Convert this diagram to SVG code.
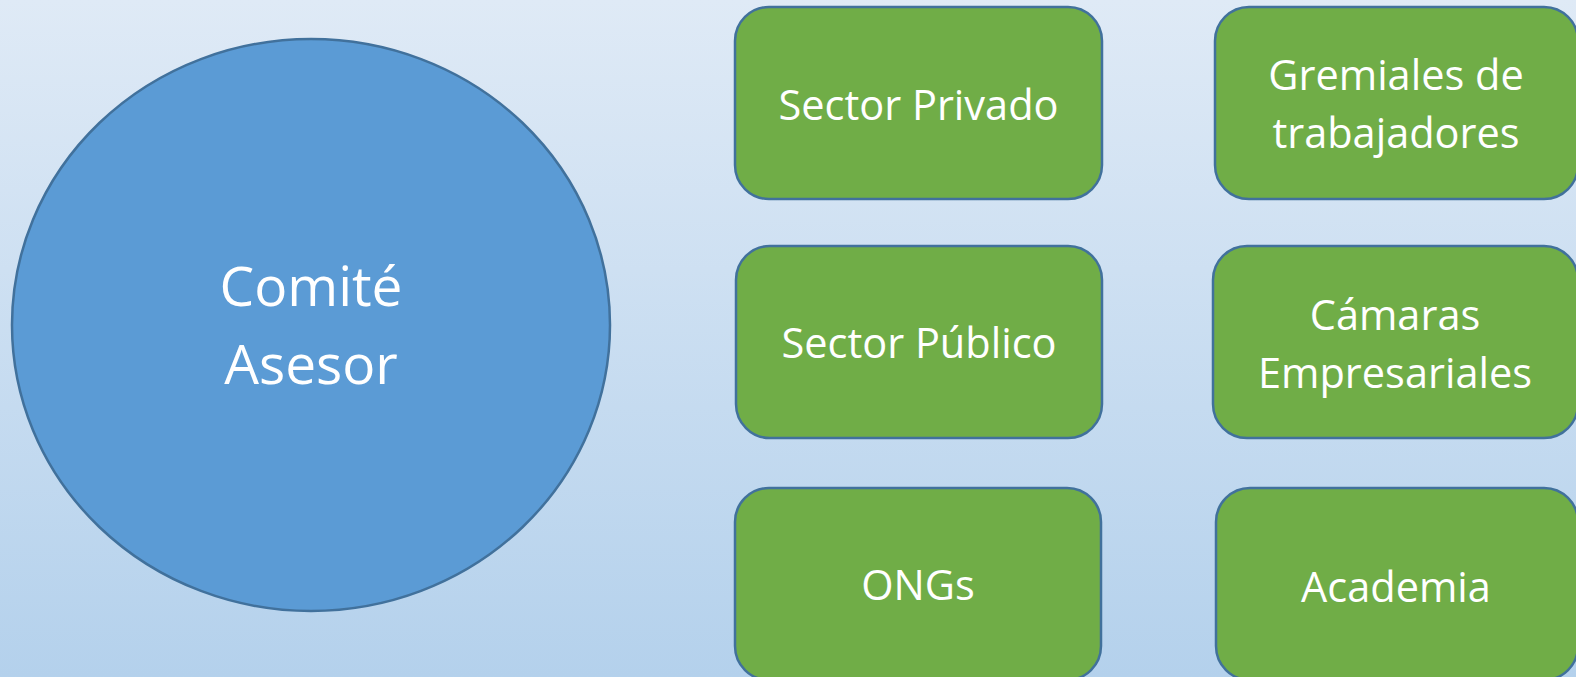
<svg xmlns="http://www.w3.org/2000/svg" width="1576" height="677" viewBox="0 0 1576 677">
<defs>
<linearGradient id="bg" x1="0" y1="0" x2="0" y2="1">
<stop offset="0" stop-color="#dfeaf6"/>
<stop offset="1" stop-color="#b4d1ec"/>
</linearGradient>
<style>
.box{fill:#70ad47;stroke:#41719c;stroke-width:2.5}
.circ{fill:#5b9bd5;stroke:#41719c;stroke-width:2.5}
.t{font-family:"Open Sans","Noto Sans",sans-serif;fill:#ffffff;text-anchor:middle;font-size:41.5px}
.tb{font-family:"Open Sans","Noto Sans",sans-serif;fill:#ffffff;text-anchor:middle;font-size:55px}
</style>
</defs>
<rect x="0" y="0" width="1576" height="677" fill="url(#bg)"/>
<g id="connectors"></g>
<g id="comite">
<ellipse class="circ" cx="311" cy="325" rx="299" ry="286"/>
<text class="tb" x="311" y="306">Comité</text>
<text class="tb" x="311" y="384">Asesor</text>
</g>
<g id="sector-privado">
<rect class="box" x="735" y="7" width="367" height="192" rx="34"/>
<text class="t" x="918.5" y="120">Sector Privado</text>
</g>
<g id="gremiales">
<rect class="box" x="1215" y="7" width="363" height="192" rx="34"/>
<text class="t" x="1396" y="90">Gremiales de</text>
<text class="t" x="1396" y="148">trabajadores</text>
</g>
<g id="sector-publico">
<rect class="box" x="736" y="246" width="366" height="192" rx="34"/>
<text class="t" x="919" y="358">Sector Público</text>
</g>
<g id="camaras">
<rect class="box" x="1213" y="246" width="365" height="192" rx="34"/>
<text class="t" x="1395" y="330">Cámaras</text>
<text class="t" x="1395" y="388">Empresariales</text>
</g>
<g id="ongs">
<rect class="box" x="735" y="488" width="366" height="192" rx="34"/>
<text class="t" x="918" y="600">ONGs</text>
</g>
<g id="academia">
<rect class="box" x="1216" y="488" width="362" height="192" rx="34"/>
<text class="t" x="1396" y="602">Academia</text>
</g>
</svg>
